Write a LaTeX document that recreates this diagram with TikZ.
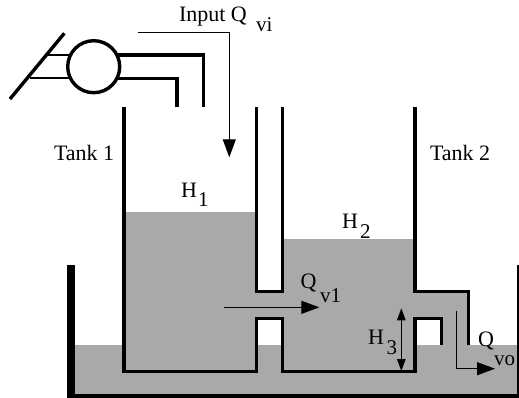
\documentclass[tikz,border=0pt]{standalone}
\usepackage{fontspec}
\setmainfont{Liberation Serif}
\usetikzlibrary{arrows.meta}
\definecolor{water}{HTML}{A9A9A9}
\tikzset{
  wall/.style={draw=black,line width=3.4pt,line cap=butt,line join=miter},
  thinpipe/.style={draw=black,line width=2pt},
  flow/.style={draw=black,line width=1.1pt,-{Triangle[length=18pt,width=13pt]}},
  measure/.style={draw=black,line width=1.1pt,{Triangle[length=12pt,width=8.5pt]}-{Triangle[length=12pt,width=8.5pt]}},
  lbl/.style={anchor=base west,inner sep=0pt,outer sep=0pt,font=\fontsize{22}{24}\selectfont},
  sublbl/.style={anchor=base west,inner sep=0pt,outer sep=0pt,font=\fontsize{21}{23}\selectfont}
}
\begin{document}
\begin{tikzpicture}[x=1pt,y=-1pt]
\useasboundingbox (0,0) rectangle (519,398);
% water
\fill[water] (75,345.3) rectangle (517,394);
\fill[water] (124,212) rectangle (256.7,371.3);
\fill[water] (256,291.7) rectangle (283,318.3);
\fill[water] (282.7,239.3) rectangle (415,371.3);
\fill[water] (415,291.7) -- (468.3,291.7) -- (468.3,345.5) -- (441.7,345.5) -- (441.7,318.3) -- (415,318.3) -- cycle;
\fill[white] (258,320) rectangle (281,345.3);
% outer basin
\fill[black] (67.3,265) rectangle (74.7,398);
\fill[black] (67.3,394) rectangle (519,398);
\fill[black] (516.7,265) rectangle (519,398);
% tanks
\draw[wall] (124,107) -- (124,371.5) -- (256.7,371.5) -- (256.7,318.3) -- (282.7,318.3) -- (282.7,371.5) -- (415,371.5) -- (415,318.3) -- (441.7,318.3) -- (441.7,345);
\draw[wall] (256.7,107) -- (256.7,291.7) -- (282.7,291.7) -- (282.7,107);
\draw[wall] (415,107) -- (415,291.7) -- (468.3,291.7) -- (468.3,345);
% pump
\node[circle,draw=black,line width=3.4pt,minimum size=52pt,inner sep=0pt] (pump) at (93.7,66.7) {};
\coordinate (handleA) at (10,99);
\coordinate (handleB) at (64.3,33.3);
\draw[draw=black,line width=3.4pt] (handleA) -- (handleB);
\draw[thinpipe] (47,55) -- (69,55);
\draw[thinpipe] (30,77.7) -- (69,77.7);
\draw[wall] (118,55) -- (203.3,55) -- (203.3,107.3);
\draw[wall] (118,78.7) -- (177,78.7) -- (177,107.3);
% arrows
\coordinate (inA) at (138.3,32.3);
\coordinate (inB) at (229.3,32.3);
\coordinate (inC) at (229.3,157.3);
\draw[flow,line width=1pt] (inA) -- (inB) -- (inC);
\coordinate (v1A) at (224,307.3);
\coordinate (v1B) at (319.3,307.3);
\draw[flow] (v1A) -- (v1B);
\coordinate (h3A) at (401.3,308.3);
\coordinate (h3B) at (401.3,371);
\draw[measure] (h3A) -- (h3B);
\coordinate (voA) at (456.7,311);
\coordinate (voB) at (456.7,368.7);
\coordinate (voC) at (495,368.7);
\draw[flow] (voA) -- (voB) -- (voC);
% labels
\node[lbl] (input) at (179,22) {Input Q};
\node[sublbl] (vi) at (256,32) {vi};
\node[lbl] (tank1) at (54,161) {Tank 1};
\node[lbl] (tank2) at (430,161) {Tank 2};
\node[lbl] (h1) at (181,197) {H};
\node[sublbl] (s1) at (198,207) {1};
\node[lbl] (h2) at (342,228) {H};
\node[sublbl] (s2) at (360,238) {2};
\node[lbl] (qv) at (300.7,288) {Q};
\node[sublbl] (qvs) at (320,302) {v1};
\node[lbl] (h3) at (368,344) {H};
\node[sublbl] (s3) at (386.7,354) {3};
\node[lbl] (qo) at (478,346.7) {Q};
\node[sublbl] (qos) at (494,365) {vo};
\end{tikzpicture}
\end{document}
